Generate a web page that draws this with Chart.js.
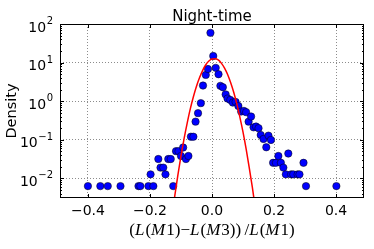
<!DOCTYPE html>
<html>
<head>
<meta charset="utf-8">
<script src="https://cdn.jsdelivr.net/npm/chart.js@4.4.1/dist/chart.umd.min.js"></script>
<style>
  html, body { margin: 0; padding: 0; background: #fff; }
  #wrap { width: 374px; height: 249px; }
</style>
</head>
<body>
<div id="wrap"><canvas id="c" width="374" height="249"></canvas></div>
<script>
// ---------- dados
const dotX = [-0.400, -0.360, -0.336, -0.295, -0.237, -0.231, -0.205, -0.198, -0.189, -0.173,
  -0.166, -0.157, -0.150, -0.141, -0.133, -0.125, -0.116, -0.108, -0.100, -0.093,
  -0.084, -0.076, -0.068, -0.060, -0.053, -0.045, -0.036, -0.029, -0.020, -0.013,
  -0.005, 0.004, 0.012, 0.021, 0.027, 0.035, 0.044, 0.050, 0.059, 0.067,
  0.076, 0.085, 0.094, 0.103, 0.110, 0.118, 0.126, 0.134, 0.142, 0.150,
  0.157, 0.166, 0.175, 0.182, 0.190, 0.197, 0.206, 0.214, 0.222, 0.230,
  0.238, 0.246, 0.255, 0.262, 0.276, 0.282, 0.295, 0.303, 0.401];
const dotY = [0.0063, 0.0063, 0.0063, 0.0063, 0.0063, 0.0063, 0.0063, 0.0127, 0.0063, 0.0317,
  0.019, 0.019, 0.0127, 0.0317, 0.0317, 0.0063, 0.0507, 0.0507, 0.038, 0.063,
  0.0317, 0.038, 0.12, 0.12, 0.295, 0.49, 0.89, 2.54, 4.8, 6.8,
  59, 14.8, 7.3, 5.0, 2.5, 2.3, 1.5, 1.17, 1.08, 0.92,
  0.96, 0.75, 0.54, 0.56, 0.52, 0.295, 0.4, 0.21, 0.22, 0.2,
  0.133, 0.105, 0.064, 0.128, 0.099, 0.0253, 0.0253, 0.038, 0.0253, 0.019,
  0.0127, 0.044, 0.0127, 0.0127, 0.0127, 0.0127, 0.0253, 0.0063, 0.0063];

const fitX = [-0.13, -0.12, -0.11, -0.10, -0.09, -0.08, -0.07, -0.06, -0.05, -0.04,
  -0.03, -0.02, -0.01, 0.00, 0.01, 0.02, 0.03, 0.04, 0.05, 0.06,
  0.07, 0.08, 0.09, 0.10, 0.11, 0.12, 0.13, 0.14];
const fitY = [0.00092, 0.0035, 0.0122, 0.038, 0.107, 0.27, 0.63, 1.3, 2.44, 4.1,
  6.3, 8.8, 11.0, 12.4, 12.6, 11.7, 9.7, 7.3, 5.0, 3.05,
  1.7, 0.85, 0.38, 0.158, 0.058, 0.019, 0.0059, 0.0016];

const xTicks = [-0.4, -0.2, 0, 0.2, 0.4];
const xTickLabels = ['\u22120.4', '\u22120.2', '0.0', '0.2', '0.4'];
const yTicks = [0.01, 0.1, 1, 10, 100];
const yTickBase = '10';
const yTickExp = ['\u22122', '\u22121', '0', '1', '2'];

const titleText = 'Night-time';
const yTitle = 'Density';
// rótulo do eixo x em partes: [texto, itálico?]
const xTitleParts = [['(', 0], ['L', 1], ['(', 0], ['M', 1], ['1)', 0], ['\u2212', 0], ['L', 1], ['(', 0],
  ['M', 1], ['3))\u2009/', 0], ['L', 1], ['(', 0], ['M', 1], ['1)', 0]];

Chart.defaults.font.family = '"DejaVu Sans", sans-serif';
Chart.defaults.color = '#000';

// ---------- moldura, marcas e textos (estilo matplotlib clássico)
const frame = {
  id: 'frame',
  afterDraw(chart) {
    const { ctx, chartArea: a, scales: { x, y } } = chart;
    ctx.save();
    ctx.strokeStyle = '#000';
    ctx.lineWidth = 1;
    ctx.beginPath();
    xTicks.forEach(v => {
      const px = Math.round(x.getPixelForValue(v)) + 0.5;
      ctx.moveTo(px, a.bottom); ctx.lineTo(px, a.bottom - 4);
      ctx.moveTo(px, a.top); ctx.lineTo(px, a.top + 4);
    });
    for (let e = -3; e <= 2; e++) {
      for (let m = 1; m <= 9; m++) {
        const v = m * Math.pow(10, e);
        if (v < y.min || v > y.max) continue;
        const py = Math.round(y.getPixelForValue(v)) + 0.5;
        const len = m === 1 ? 4 : 2;
        ctx.moveTo(a.left, py); ctx.lineTo(a.left + len, py);
        ctx.moveTo(a.right, py); ctx.lineTo(a.right - len, py);
      }
    }
    ctx.stroke();
    ctx.strokeRect(Math.round(a.left) + 0.5, Math.round(a.top) + 0.5,
      Math.round(a.right - a.left) - 1, Math.round(a.bottom - a.top) - 1);

    ctx.fillStyle = '#000';

    // rótulos do eixo y: 10 com expoente
    ctx.textAlign = 'right';
    ctx.textBaseline = 'alphabetic';
    yTicks.forEach((v, i) => {
      const py = y.getPixelForValue(v);
      const right = a.left - 7;
      ctx.font = '10px "DejaVu Sans"';
      const ew = ctx.measureText(yTickExp[i]).width;
      ctx.fillText(yTickExp[i], right, py);
      ctx.font = '14px "DejaVu Sans"';
      ctx.fillText(yTickBase, right - ew - 0.5, py + 7.5);
    });

    ctx.font = '15px "DejaVu Sans"';
    ctx.textAlign = 'center';
    ctx.fillText(titleText, (a.left + a.right) / 2, 20.5);

    ctx.save();
    ctx.translate(16, (a.top + a.bottom) / 2);
    ctx.rotate(-Math.PI / 2);
    ctx.font = '14.5px "DejaVu Sans"';
    ctx.fillText(yTitle, 0, 0);
    ctx.restore();

    const up = '17px "Liberation Serif"';
    const it = 'italic 17px "Liberation Serif"';
    let total = 0;
    xTitleParts.forEach(([t, i]) => { ctx.font = i ? it : up; total += ctx.measureText(t).width + (i ? 1 : 0); });
    let cx = (a.left + a.right) / 2 - total / 2;
    ctx.textAlign = 'left';
    xTitleParts.forEach(([t, i]) => {
      ctx.font = i ? it : up;
      ctx.fillText(t, cx, 235);
      cx += ctx.measureText(t).width + (i ? 1 : 0);
    });
    ctx.restore();
  }
};

new Chart(document.getElementById('c'), {
  type: 'scatter',
  data: {
    datasets: [
      {
        label: 'fit',
        data: fitX.map((v, i) => ({ x: v, y: fitY[i] })),
        showLine: true,
        borderColor: '#ff0000',
        borderWidth: 1.5,
        pointRadius: 0,
        cubicInterpolationMode: 'monotone',
        order: 0
      },
      {
        label: 'data',
        data: dotX.map((v, i) => ({ x: v, y: dotY[i] })),
        pointRadius: 3.7,
        backgroundColor: '#0000ff',
        borderColor: '#000',
        borderWidth: 0.5,
        order: 1
      }
    ]
  },
  options: {
    responsive: false,
    animation: false,
    devicePixelRatio: 1,
    layout: { padding: { left: 0, top: 24, right: 10, bottom: 0 } },
    plugins: { legend: { display: false }, tooltip: { enabled: false }, title: { display: false } },
    scales: {
      x: {
        type: 'linear',
        min: -0.49,
        max: 0.49,
        afterBuildTicks: s => { s.ticks = xTicks.map(v => ({ value: v })); },
        afterFit: s => { s.height = 51; },
        grid: { color: 'rgba(0,0,0,0.45)', lineWidth: 1, drawTicks: false },
        border: { display: false, dash: [1, 2] },
        ticks: {
          autoSkip: false, maxRotation: 0, padding: 5,
          font: { size: 14 },
          callback: (v, i) => xTickLabels[i]
        }
      },
      y: {
        type: 'logarithmic',
        min: 0.0031,
        max: 100,
        afterBuildTicks: s => { s.ticks = yTicks.map(v => ({ value: v })); },
        afterFit: s => { s.width = 60; },
        grid: { color: 'rgba(0,0,0,0.45)', lineWidth: 1, drawTicks: false },
        border: { display: false, dash: [1, 2] },
        ticks: { display: false }
      }
    }
  },
  plugins: [frame]
});
</script>
</body>
</html>
